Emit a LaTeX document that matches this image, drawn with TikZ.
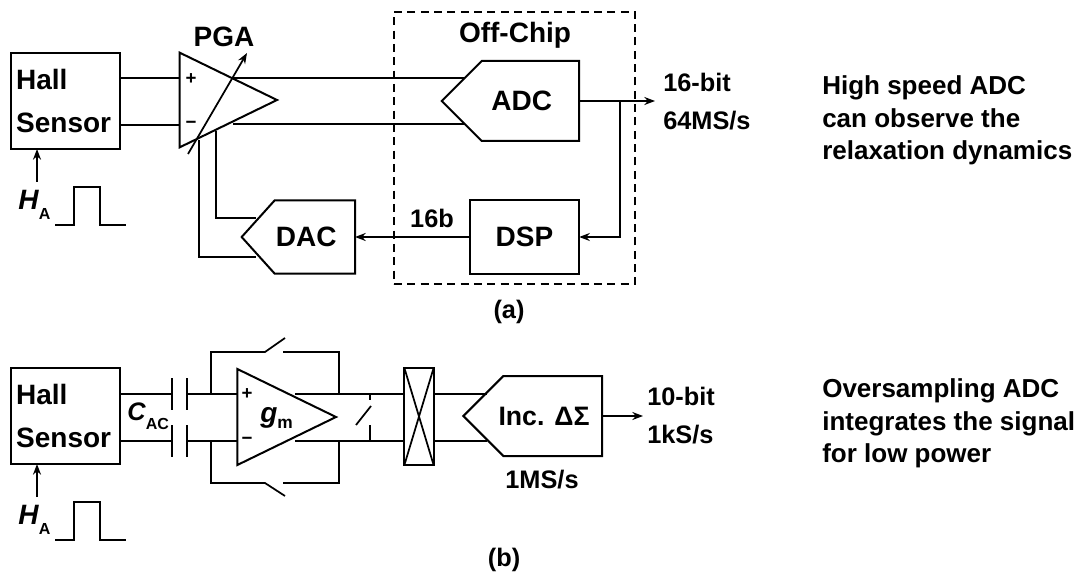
\documentclass[tikz,border=0pt]{standalone}
\usepackage{fontspec}
\setmainfont{Liberation Sans}
\usetikzlibrary{arrows.meta,shapes.geometric,shapes.symbols}

\tikzset{
  wire/.style={line width=1.3pt},
  tip/.style={wire,-{Stealth[length=8pt,width=6pt]}},
  blockbox/.style={draw,line width=1.5pt,rectangle,inner sep=0pt,outer sep=0pt,font=\fontsize{21}{25}\bfseries},
  convbox/.style={draw,line width=1.5pt,shape=signal,signal to=west,inner sep=0pt,outer sep=0pt,anchor=east,font=\fontsize{21}{25}\bfseries},
  ampbox/.style={draw,line width=1.5pt,shape=isosceles triangle,isosceles triangle stretches,inner sep=0pt,outer sep=0pt,anchor=apex},
  lbl/.style={inner sep=0pt,font=\fontsize{21}{25}\bfseries,align=left},
  rate/.style={inner sep=0pt,anchor=west,align=left,font=\fontsize{19}{28.5}\bfseries},
  note/.style={inner sep=0pt,anchor=west,align=left,font=\fontsize{19.5}{24.5}\bfseries},
}

\begin{document}
\begin{tikzpicture}[x=0.75pt,y=0.75pt,yscale=-1,xscale=1]
\path[use as bounding box] (0,0) rectangle (1080,577);

% (a)
\node[blockbox,minimum width=82pt,minimum height=72pt] (halla) at (65.5,101) {\parbox{74pt}{Hall\\[7pt]Sensor}};
\node[ampbox,minimum width=71pt,minimum height=73pt] (pga) at (277,100) {};
\node[convbox,minimum width=103pt,minimum height=60pt,signal pointer angle=90] (adc) at (579,101) {\makebox[0pt]{ADC\hspace*{13pt}}};
\node[blockbox,minimum width=82pt,minimum height=55pt] (dsp) at (524.5,237) {DSP};
\node[convbox,minimum width=85pt,minimum height=55pt,signal pointer angle=96] (dac) at (355,237) {\makebox[0pt]{DAC\hspace*{13pt}}};
\node[draw,dashed,line width=1.3pt,dash pattern=on 6pt off 4pt,minimum width=181pt,minimum height=204pt,inner sep=0pt] (offchip) at (514.5,148) {};

% connectors (a)
\coordinate (pgap) at (179,78);
\coordinate (pgan) at (179,125);
\coordinate (adcp) at (465,78);
\coordinate (adcn) at (465,124);
\coordinate (pgaop) at (232,78);
\coordinate (pgaon) at (233,124);
\coordinate (outa) at (655,101);
\coordinate (tapa) at (620,101);
\coordinate (fba) at (216,131);
\coordinate (fbb) at (199,140);
\coordinate (daca) at (256,218);
\coordinate (dacb) at (256,257);
\draw[wire] (halla.east |- pgap) -- (pgap);
\draw[wire] (halla.east |- pgan) -- (pgan);
\draw[wire] (pgaop) -- (adcp);
\draw[wire] (pgaon) -- (adcn);
\draw[tip] (adc.east) -- (outa);
\draw[tip] (tapa) |- (dsp.east);
\draw[tip] (dsp.west) -- (dac.east);
\draw[wire] (fba) |- (daca);
\draw[wire] (fbb) |- (dacb);
\coordinate (gaina) at (188,154);
\coordinate (gainb) at (247,53);
\draw[tip] (gaina) -- (gainb);

\coordinate (fielda) at (37,182);
\draw[tip] (fielda) -- (halla.south -| fielda);
\draw[wire,line width=1.5pt] (55,225) -- (74,225) -- (74,187) -- (100,187) -- (100,225) -- (126,225);

\node[lbl] (plusa) at (191,79) {\fontsize{14}{14}\selectfont +};
\node[lbl] (minusa) at (191,125) {\fontsize{14}{14}\selectfont −};
\node[lbl] (pgal) at (224,37) {PGA};
\node[lbl] (offl) at (515,35) {Off-Chip};
\node[lbl,font=\fontsize{19}{23}\bfseries] (bitl) at (432,218) {16b};
\node[rate] (rata) at (663,101.5) {16-bit\\64MS/s};
\node[lbl,anchor=west] (hal) at (18,205) {\textit{H}\raisebox{-8pt}{\fontsize{12}{12}\selectfont A}};
\node[lbl,font=\fontsize{19}{23}\bfseries] (capa) at (509,312) {(a)};
\node[note] (notea) at (822,120.5) {High speed ADC\\can observe the\\relaxation dynamics};

% (b)
\node[blockbox,minimum width=82pt,minimum height=72pt] (hallb) at (65.5,416) {\parbox{74pt}{Hall\\[7pt]Sensor}};
\node[ampbox,minimum width=72pt,minimum height=74pt] (gm) at (336,417) {};
\node[blockbox,minimum width=22pt,minimum height=73pt] (chop) at (419,416.5) {};
\node[convbox,minimum width=104pt,minimum height=60pt,signal pointer angle=90,font=\fontsize{20}{24}\bfseries] (inc) at (602,416) {\makebox[0pt]{Inc. ΔΣ\hspace*{13pt}}};

% connectors (b)
\coordinate (capal) at (172,394);
\coordinate (capar) at (187,394);
\coordinate (capbl) at (172,441);
\coordinate (capbr) at (187,441);
\draw[wire] (hallb.east |- capal) -- (capal);
\draw[wire] (hallb.east |- capbl) -- (capbl);
\draw[wire,line width=1.5pt] (172,378) -- (172,410) (187,378) -- (187,410);
\draw[wire,line width=1.5pt] (172,425) -- (172,457) (187,425) -- (187,457);
\coordinate (gmp) at (237,394);
\coordinate (gmn) at (237,441);
\draw[wire] (capar) -- (gmp);
\draw[wire] (capbr) -- (gmn);
\draw[wire] (211,394) |- (265,352) -- (285,338);
\draw[wire] (283,352) -- (339,352) -- (339,394);
\draw[wire] (211,441) |- (265,483) -- (285,496);
\draw[wire] (283,483) -- (339,483) -- (339,441);
\coordinate (gmop) at (295,394);
\coordinate (gmon) at (295,441);
\coordinate (chopp) at (404,394);
\coordinate (chopn) at (404,441);
\draw[wire] (gmop) -- (chopp);
\draw[wire] (gmon) -- (chopn);
\draw[wire] (370,394) -- (370,400);
\draw[wire] (370,425) -- (370,441);
\draw[wire] (356,425) -- (371,406);
\draw[wire] (chop.north west) -- (chop.south east);
\draw[wire] (chop.north east) -- (chop.south west);
\coordinate (incp) at (487,394);
\coordinate (incn) at (487,441);
\draw[wire] (chop.east |- incp) -- (incp);
\draw[wire] (chop.east |- incn) -- (incn);
\coordinate (outb) at (643,416);
\draw[tip] (inc.east) -- (outb);

\coordinate (fieldb) at (37,497);
\draw[tip] (fieldb) -- (hallb.south -| fieldb);
\draw[wire,line width=1.5pt] (55,540) -- (74,540) -- (74,502) -- (100,502) -- (100,540) -- (126,540);

\node[lbl] (plusb) at (247,394) {\fontsize{14}{14}\selectfont +};
\node[lbl] (minusb) at (247,441) {\fontsize{14}{14}\selectfont −};
\node[lbl,anchor=west,font=\fontsize{19}{23}\bfseries] (cacl) at (127,416) {\textit{C}\raisebox{-7pt}{\fontsize{12}{12}\selectfont AC}};
\node[lbl,anchor=west] (gml) at (260,418) {\textit{g}\raisebox{-5pt}{\fontsize{13}{13}\selectfont m}};
\node[rate] (ratb) at (647,416) {10-bit\\1kS/s};
\node[lbl,font=\fontsize{19}{23}\bfseries] (fsl) at (542,480) {1MS/s};
\node[lbl,anchor=west] (hbl) at (18,520) {\textit{H}\raisebox{-8pt}{\fontsize{12}{12}\selectfont A}};
\node[lbl,font=\fontsize{19}{23}\bfseries] (capb) at (504,560) {(b)};
\node[note] (noteb) at (822,423.5) {Oversampling ADC\\integrates the signal\\for low power};
\end{tikzpicture}
\end{document}
